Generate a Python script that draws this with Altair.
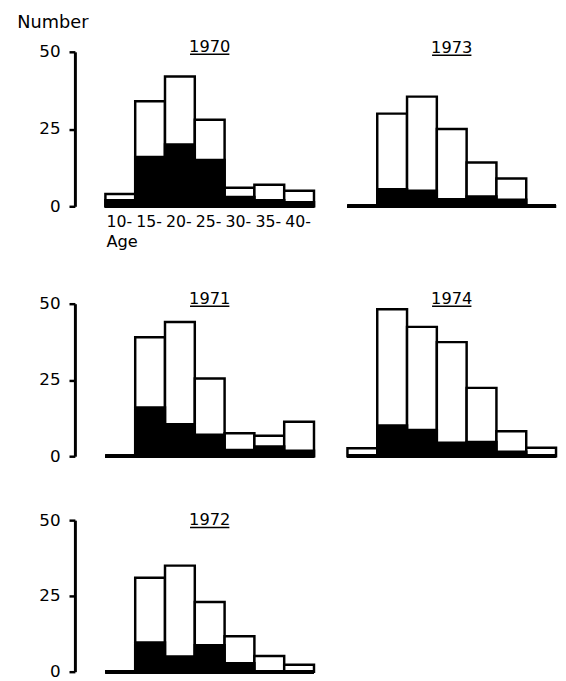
import altair as alt
import pandas as pd

# Age classes (lower bound of each 5-year class)
ages = [10, 15, 20, 25, 30, 35, 40]
age_labels = ["10-", "15-", "20-", "25-", "30-", "35-", "40-"]

# Total numbers per age class (outlined bars) and the black (shaded) part
total_1970 = [4, 34, 42, 28, 6, 7, 5]
black_1970 = [2, 16, 20, 15, 3, 2, 1.3]
total_1971 = [0, 39, 44, 25.5, 7.5, 6.7, 11.3]
black_1971 = [0, 16, 10.5, 7, 2, 3.2, 1.8]
total_1972 = [0, 31, 35, 23, 11.7, 5.2, 2.3]
black_1972 = [0, 9.6, 5, 8.7, 2.8, 0, 0]
total_1973 = [0, 30, 35.5, 25, 14.2, 9, 0]
black_1973 = [0, 5.5, 5, 2.3, 3.2, 2.1, 0]
total_1974 = [2.6, 48.2, 42.4, 37.4, 22.4, 8.2, 2.8]
black_1974 = [0, 10.1, 8.6, 4.4, 4.7, 1.5, 0]

y_ticks = [0, 25, 50]

FONT = "DejaVu Sans"
W = 212


def panel(year, totals, blacks, height, show_y, show_x, title_dy):
    df = pd.DataFrame({
        "age": ages,
        "age_end": [a + 5 for a in ages],
        "label": age_labels,
        "total": totals,
        "black": blacks,
    })
    xscale = alt.Scale(domain=[ages[0], ages[-1] + 5], nice=False, zero=False)
    yscale = alt.Scale(domain=[0, 50], nice=False)
    if show_y:
        yaxis = alt.Axis(
            values=y_ticks, offset=31, tickSize=6, tickWidth=2.5,
            tickColor="black", domainWidth=3, domainColor="black",
            labelFont=FONT, labelFontSize=17, labelColor="black",
            labelPadding=9, labelFlush=False, grid=False,
            title="Number" if year == "1970" else None,
            titleAngle=0, titleFont=FONT, titleFontSize=18,
            titleFontWeight="normal", titleColor="black",
            titleAlign="left", titleBaseline="top",
            titleX=-59, titleY=-39,
        )
    else:
        yaxis = None

    base = alt.Chart(df)
    white = base.mark_rect(fill="white", stroke="black", strokeWidth=2.5).encode(
        x=alt.X("age:Q", scale=xscale, axis=None),
        x2="age_end:Q",
        y=alt.Y("total:Q", scale=yscale, axis=yaxis),
        y2=alt.datum(0),
    )
    dark = base.mark_rect(fill="black", stroke="black", strokeWidth=2.5).encode(
        x=alt.X("age:Q"), x2="age_end:Q", y=alt.Y("black:Q"), y2=alt.datum(0),
    )
    baseline = base.mark_rule(color="black", strokeWidth=3.5).encode(
        x=alt.datum(ages[0]), x2=alt.datum(ages[-1] + 5), y=alt.datum(0),
    )
    tdf = pd.DataFrame({"year": [year]})
    title = alt.Chart(tdf).mark_text(
        font=FONT, fontSize=16.5, color="black", align="center",
        baseline="alphabetic",
    ).encode(text="year:N", x=alt.value(W / 2), y=alt.value(title_dy))
    underline = alt.Chart(tdf).mark_rule(color="black", strokeWidth=1.5).encode(
        x=alt.value(W / 2 - 20), x2=alt.value(W / 2 + 20),
        y=alt.value(title_dy + 2.5),
    )
    layers = [white, dark, baseline, title, underline]
    if show_x:
        xlabels = base.mark_text(
            font=FONT, fontSize=16, color="black", align="left",
            baseline="top", dx=1,
        ).encode(x=alt.X("age:Q"), y=alt.value(height + 8), text="label:N")
        agedf = pd.DataFrame({"t": ["Age"], "age": [ages[0]]})
        agetitle = alt.Chart(agedf).mark_text(
            font=FONT, fontSize=16.5, color="black", align="left",
            baseline="alphabetic", dx=1,
        ).encode(x=alt.X("age:Q"), y=alt.value(height + 41), text="t:N")
        layers += [xlabels, agetitle]
    return alt.layer(*layers).properties(width=W, height=height)


p1970 = panel("1970", total_1970, black_1970, 157, True, True, 0)
p1973 = panel("1973", total_1973, black_1973, 157, False, False, 1)
p1971 = panel("1971", total_1971, black_1971, 155, True, False, 0)
p1974 = panel("1974", total_1974, black_1974, 155, False, False, 0)
p1972 = panel("1972", total_1972, black_1972, 154, True, False, 5)

row1 = alt.hconcat(p1970, p1973, spacing=30)
row2 = alt.hconcat(p1971, p1974, spacing=30)
top = alt.vconcat(row1, row2, spacing=41)

chart = alt.vconcat(top, p1972, spacing=48).properties(
    padding={"left": 9, "top": 0, "right": 0, "bottom": 0}
).configure(background="white").configure_view(stroke=None)

chart.save("out.html", embed_options={"renderer": "svg", "actions": False})
